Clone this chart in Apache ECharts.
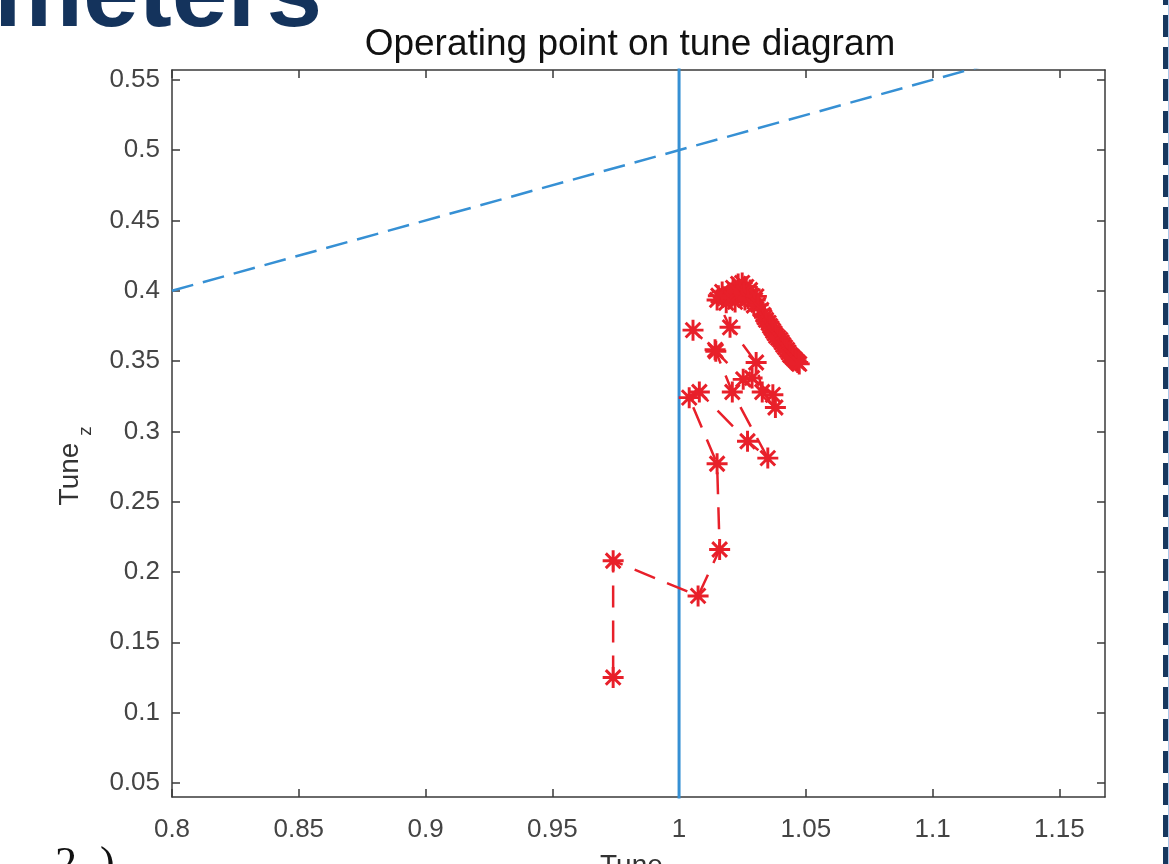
<!DOCTYPE html>
<html>
	<head>
		<meta charset="utf-8" />
		<title>Operating point on tune diagram</title>
		<script src="https://cdn.jsdelivr.net/npm/echarts@6/dist/echarts.min.js"></script>
	</head>

	<body style="margin:0;background:#fff;">
		<div id="main" style="width: 1169px;height:864px;"></div>
		<script type="text/javascript">
			// tick labels
			var xTicks = [0.8, 0.85, 0.9, 0.95, 1, 1.05, 1.1, 1.15];
			var yTicks = [0.05, 0.1, 0.15, 0.2, 0.25, 0.3, 0.35, 0.4, 0.45, 0.5, 0.55];

			// resonance line (dashed) and integer line (solid)
			var resX = [0.8, 1.2];
			var resZ = [0.4, 0.6];
			var intX = [1, 1];
			var intZ = [0, 0.6];

			// operating point trajectory
			var tuneX = [0.974, 0.974, 1.0075, 1.016, 1.015, 1.004, 1.008, 1.027, 1.035, 1.021,
				1.0142, 1.0055, 1.0145, 1.0253, 1.038, 1.037, 1.0288, 1.0328, 1.0304, 1.0201,
				1.015, 1.0213, 1.0186, 1.0233, 1.0221, 1.0249, 1.017, 1.0265, 1.0241, 1.028,
				1.0193, 1.0288, 1.026, 1.030, 1.0155, 1.0205, 1.0229, 1.0255, 1.0272, 1.0305,
				1.0295, 1.0312, 1.0324, 1.0332, 1.0337, 1.0343, 1.0353,
				1.0359, 1.0365, 1.0371, 1.0377, 1.0383, 1.0391, 1.0399, 1.0405, 1.0411, 1.0418,
				1.0426, 1.0432, 1.0438, 1.0444, 1.045, 1.0456, 1.0462, 1.0468, 1.0474];
			var tuneZ = [0.125, 0.208, 0.183, 0.216, 0.277, 0.324, 0.328, 0.293, 0.281, 0.328,
				0.358, 0.372, 0.357, 0.337, 0.317, 0.326, 0.338, 0.328, 0.349, 0.374,
				0.3935, 0.4021, 0.3914, 0.4049, 0.3921, 0.4056, 0.3992, 0.4028, 0.3985, 0.4006,
				0.3964, 0.3964, 0.3935, 0.3935, 0.3965, 0.395, 0.3995, 0.3985, 0.3945, 0.396,
				0.3895, 0.390, 0.3864, 0.3829, 0.3811, 0.3793, 0.3772,
				0.375, 0.3733, 0.3715, 0.3697, 0.3679, 0.3665, 0.3651, 0.3633, 0.3615, 0.3598,
				0.358, 0.3562, 0.3544, 0.3534, 0.3523, 0.3512, 0.3501, 0.349, 0.348];

			function pairs(xs, ys) {
				return xs.map(function(x, i) { return [x, ys[i]]; });
			}

			// MATLAB style asterisk, bold spokes
			var star = 'path://M0 43L100 43L100 57L0 57Z M43 0L57 0L57 100L43 100Z ' +
				'M10 20L20 10L90 80L80 90Z M80 10L90 20L20 90L10 80Z';

			var font = 'Liberation Sans';
			var axisColor = '#3a3a3a';
			var labelColor = '#444';

			var myChart = echarts.init(document.getElementById('main'));

			var option = {
				animation: false,
				backgroundColor: '#fff',
				grid: {
					left: 172,
					right: 64,
					top: 70,
					bottom: 67
				},
				xAxis: [
					{
						type: 'value',
						min: 0.8,
						max: 1.168,
						position: 'bottom',
						axisLine: { onZero: false, lineStyle: { color: axisColor, width: 1.5 } },
						axisTick: { inside: true, length: 8, customValues: xTicks, lineStyle: { color: axisColor, width: 1.5 } },
						axisLabel: { customValues: xTicks, fontSize: 26, color: labelColor, margin: 20, fontFamily: font },
						splitLine: { show: false }
					},
					{
						type: 'value',
						min: 0.8,
						max: 1.168,
						position: 'top',
						axisLine: { onZero: false, lineStyle: { color: axisColor, width: 1.5 } },
						axisTick: { inside: true, length: 8, customValues: xTicks, lineStyle: { color: axisColor, width: 1.5 } },
						axisLabel: { show: false },
						splitLine: { show: false }
					}
				],
				yAxis: [
					{
						type: 'value',
						min: 0.04,
						max: 0.557,
						position: 'left',
						axisLine: { show: true, onZero: false, lineStyle: { color: axisColor, width: 1.5 } },
						axisTick: { show: true, inside: true, length: 8, customValues: yTicks, lineStyle: { color: axisColor, width: 1.5 } },
						axisLabel: { customValues: yTicks, fontSize: 26, color: labelColor, margin: 12, fontFamily: font },
						splitLine: { show: false }
					},
					{
						type: 'value',
						min: 0.04,
						max: 0.557,
						position: 'right',
						axisLine: { show: true, onZero: false, lineStyle: { color: axisColor, width: 1.5 } },
						axisTick: { show: true, inside: true, length: 8, customValues: yTicks, lineStyle: { color: axisColor, width: 1.5 } },
						axisLabel: { show: false },
						splitLine: { show: false }
					}
				],
				series: [
					{
						type: 'line',
						data: pairs(resX, resZ),
						showSymbol: false,
						clip: true,
						lineStyle: { color: '#3690d4', width: 2.5, type: [22, 10] },
						z: 2
					},
					{
						type: 'line',
						data: pairs(intX, intZ),
						showSymbol: false,
						clip: true,
						lineStyle: { color: '#3690d4', width: 3 },
						z: 2
					},
					{
						type: 'line',
						data: pairs(tuneX, tuneZ),
						symbol: star,
						symbolSize: 21,
						showSymbol: true,
						showAllSymbol: true,
						clip: true,
						itemStyle: { color: '#e8202a' },
						lineStyle: { color: '#e8202a', width: 2.5, type: [22, 13] },
						z: 3
					}
				],
				graphic: [
					{
						type: 'text', x: 322, y: 48,
						style: { text: 'Parameters', align: 'right', verticalAlign: 'bottom', fill: '#14335c',
							font: 'bold 100px "Liberation Sans"' }
					},
					{
						type: 'text', x: 630, y: 45,
						style: { text: 'Operating point on tune diagram', align: 'center', verticalAlign: 'middle', fill: '#111',
							font: '37px "Liberation Sans"' }
					},
					{
						type: 'text', x: 70, y: 474, rotation: Math.PI / 2,
						style: { text: 'Tune', align: 'center', verticalAlign: 'middle', fill: '#333',
							font: '28px "Liberation Sans"' }
					},
					{
						type: 'text', x: 86, y: 431, rotation: Math.PI / 2,
						style: { text: 'z', align: 'center', verticalAlign: 'middle', fill: '#333',
							font: '19px "Liberation Sans"' }
					},
					{
						type: 'text', x: 600, y: 852,
						style: { text: 'Tune', align: 'left', verticalAlign: 'top', fill: '#333',
							font: '28px "Liberation Sans"' }
					},
					{
						type: 'text', x: 55, y: 843,
						style: { text: '2', align: 'left', verticalAlign: 'top', fill: '#111',
							font: '44px "Liberation Serif"' }
					},
					{
						type: 'text', x: 100, y: 843,
						style: { text: ')', align: 'left', verticalAlign: 'top', fill: '#111',
							font: '44px "Liberation Serif"' }
					},
					{
						type: 'line',
						shape: { x1: 1166, y1: -17, x2: 1166, y2: 880 },
						style: { stroke: '#17375e', lineWidth: 6, lineDash: [22, 10] }
					},
					{
						type: 'line',
						shape: { x1: 1168.5, y1: 0, x2: 1168.5, y2: 864 },
						style: { stroke: '#a9c6e8', lineWidth: 1 }
					}
				]
			};
			myChart.setOption(option);
		</script>

	</body>

</html>
